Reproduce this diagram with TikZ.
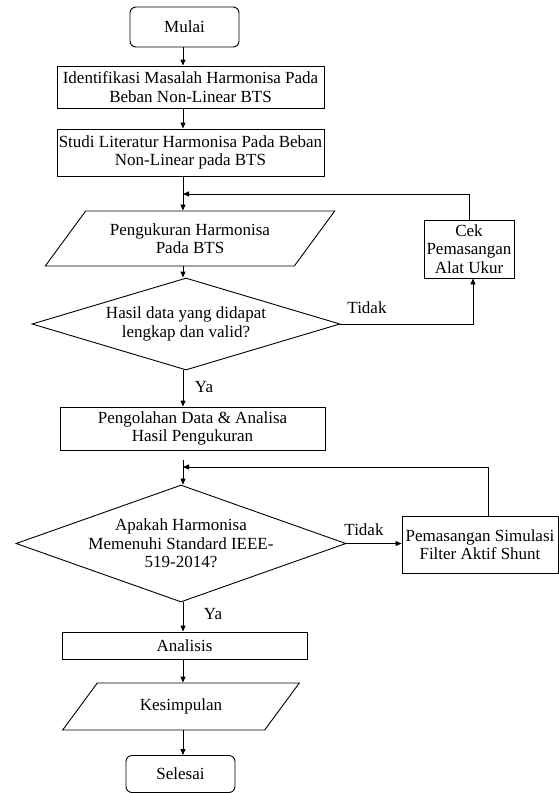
\documentclass[tikz,border=0pt]{standalone}
\usepackage{fontspec}
\setmainfont{Liberation Serif}
\usepackage{tikz}
\usetikzlibrary{shapes.geometric,arrows.meta}
\tikzset{
  base/.style={draw=black, line width=0.9pt, font=\fontsize{17}{18.5}\selectfont, align=center, inner sep=1pt},
  proc/.style={base, rectangle},
  term/.style={base, rectangle, rounded corners=6pt, minimum width=109, minimum height=40},
  io/.style={base, trapezium, trapezium stretches=true},
  dec/.style={base, diamond, inner sep=-4pt},
  flow/.style={draw=black, line width=0.9pt, -{Triangle[length=6pt,width=5pt]}},
  lab/.style={font=\fontsize{17}{18.5}\selectfont, inner sep=0pt},
}
\begin{document}
\begin{tikzpicture}[x=1pt,y=-1pt]
  \useasboundingbox (0,0) rectangle (559,793);
  \coordinate (sp) at (183,0);

  \node[term] (mulai) at (184.5,27) {Mulai};
  \node[proc, minimum width=267, minimum height=42] (ident) at (190.5,87)
    {Identifikasi Masalah Harmonisa Pada\\Beban Non-Linear BTS};
  \node[proc, minimum width=267, minimum height=47] (studi) at (190.5,152.5)
    {Studi Literatur Harmonisa Pada Beban\\Non-Linear pada BTS};
  \node[io, trapezium left angle=46, trapezium right angle=134,
        minimum width=290, minimum height=55] (ukur) at (190,238.5)
    {Pengukuran Harmonisa\\Pada BTS};
  \node[proc, minimum width=90, minimum height=58] (cek) at (469,249)
    {Cek\\Pemasangan\\Alat Ukur};
  \node[dec, aspect=3.35, minimum width=308, minimum height=92] (valid) at (186,324)
    {Hasil data yang didapat\\lengkap dan valid?};
  \node[proc, minimum width=265, minimum height=43] (olah) at (192.5,428.5)
    {Pengolahan Data \& Analisa\\Hasil Pengukuran};
  \node[dec, aspect=2.8, minimum width=330, minimum height=117] (standar) at (181,543.5)
    {Apakah Harmonisa\\Memenuhi Standard IEEE-\\519-2014?};
  \node[proc, minimum width=156, minimum height=57] (filter) at (480,544.5)
    {Pemasangan Simulasi\\Filter Aktif Shunt};
  \node[proc, minimum width=245, minimum height=27] (analisis) at (184.5,645.5) {Analisis};
  \node[io, trapezium left angle=45, trapezium right angle=135,
        minimum width=237, minimum height=47] (kesimp) at (181,706.5) {Kesimpulan};
  \node[term, minimum height=37] (selesai) at (180.5,774) {Selesai};

  \node[lab] (tidak1) at (367,308) {Tidak};
  \node[lab] (ya1) at (204,387) {Ya};
  \node[lab] (tidak2) at (364,530) {Tidak};
  \node[lab] (ya2) at (213,614) {Ya};

  \coordinate (m1) at (183,194);
  \coordinate (m2) at (183,467);

  % main line
  \draw[flow] (mulai.south -| sp) -- (ident.north -| sp);
  \draw[flow] (ident.south -| sp) -- (studi.north -| sp);
  \draw[flow] (studi.south -| sp) -- (ukur.north -| sp);
  \draw[flow] (ukur.south -| sp) -- (valid.north -| sp);
  \draw[flow] (valid.south -| sp) -- (olah.north -| sp);
  \draw[flow, shorten <=10pt] (olah.south -| sp) -- (standar.north -| sp);
  \draw[flow] (standar.south -| sp) -- (analisis.north -| sp);
  \draw[flow] (analisis.south -| sp) -- (kesimp.north -| sp);
  \draw[flow] (kesimp.south -| sp) -- (selesai.north -| sp);

  % loops back
  \draw[flow] (valid.east) -| ([xshift=4pt]cek.south);
  \draw[flow] (cek.north) |- (m1);
  \draw[flow] (standar.east) -- (standar.east -| filter.west);
  \draw[flow] ([xshift=8pt]filter.north) |- (m2);
\end{tikzpicture}
\end{document}
